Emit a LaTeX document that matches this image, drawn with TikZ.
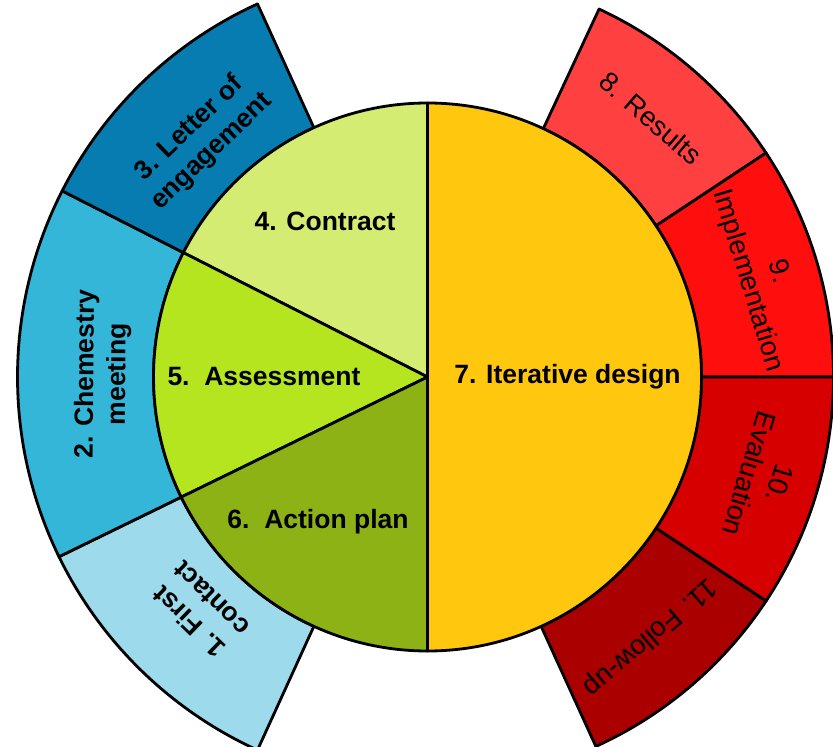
\documentclass[tikz,border=0pt]{standalone}
\usepackage{fontspec}
\setmainfont{Liberation Sans}
\usepackage{tikz}

\definecolor{stepone}{RGB}{157,218,236}
\definecolor{steptwo}{RGB}{52,182,216}
\definecolor{stepthree}{RGB}{6,124,176}
\definecolor{stepfour}{RGB}{212,236,114}
\definecolor{stepfive}{RGB}{181,229,30}
\definecolor{stepsix}{RGB}{141,178,22}
\definecolor{stepseven}{RGB}{255,200,14}
\definecolor{stepeight}{RGB}{255,64,64}
\definecolor{stepnine}{RGB}{255,14,14}
\definecolor{stepten}{RGB}{214,0,0}
\definecolor{stepeleven}{RGB}{170,0,0}

% radii of the wheel
\newcommand{\rIn}{274pt}
\newcommand{\rOutL}{410pt}
\newcommand{\rOutR}{406pt}

% ring sector: start angle, end angle, outer radius, fill
\newcommand{\ringsector}[4]{%
  \filldraw[outline, fill=#4] (#1:\rIn) arc[start angle=#1, end angle=#2, radius=\rIn]
    -- (#2:#3) arc[start angle=#2, end angle=#1, radius=#3] -- cycle;
}
% pie slice of the inner disc
\newcommand{\pieslice}[3]{%
  \filldraw[outline, fill=#3] (0,0) -- (#1:\rIn) arc[start angle=#1, end angle=#2, radius=\rIn] -- cycle;
}

\begin{document}
\begin{tikzpicture}[
  x=1pt, y=1pt,
  outline/.style={draw=black, line width=2.8pt, line join=round},
  corelabel/.style={font=\fontsize{26.5}{31}\selectfont\bfseries, align=center},
  leftlabel/.style={font=\fontsize{26.5}{32}\selectfont\bfseries, align=center},
  rightlabel/.style={font=\fontsize{27.5}{32}\selectfont, align=center},
]
\useasboundingbox (-427.5,-370) rectangle (405.5,377);

% === Left ring: steps 1-3 ===
\ringsector{206}{245.5}{\rOutL}{stepone}
\ringsector{153}{206}{\rOutL}{steptwo}
\ringsector{114.5}{153}{\rOutL}{stepthree}

% === Right ring: steps 8-11 ===
\ringsector{33.5}{65}{\rOutR}{stepeight}
\ringsector{0}{33.5}{\rOutR}{stepnine}
\ringsector{-33.5}{0}{\rOutR}{stepten}
\ringsector{-65.5}{-33.5}{\rOutR}{stepeleven}

% === Inner disc: steps 4-7 ===
\pieslice{-90}{90}{stepseven}
\pieslice{90}{153}{stepfour}
\pieslice{153}{206}{stepfive}
\pieslice{206}{270}{stepsix}

% labels of the disc
\node[corelabel] (contract) at (-102.5,156) {4. Contract};
\node[corelabel] (assess) at (-163.5,0) {5.~~Assessment};
\node[corelabel] (plan) at (-109.5,-145) {6.~~Action plan};
\node[corelabel] (design) at (140,0) {7. Iterative design};

% labels of the left ring (text follows the tangent)
\node[leftlabel, rotate=135.75] (contact) at (225.75:326) {1. First\\contact};
\node[leftlabel, rotate=89.5] (chem) at (179.5:325) {2. Chemestry\\meeting};
\node[leftlabel, rotate=43.75] (letter) at (133.75:328) {3. Letter of\\engagement};

% labels of the right ring
\node[rightlabel, rotate=-40.75] (results) at (49.25:342) {8. Results};
\node[rightlabel, rotate=-73.25] (impl) at (16.75:350) {9.\\Implementation};
\node[rightlabel, rotate=-106.75] (eval) at (-16.75:352) {10.\\Evaluation};
\node[rightlabel, rotate=-139.5] (follow) at (-49.5:342) {11. Follow-up};

\end{tikzpicture}
\end{document}
